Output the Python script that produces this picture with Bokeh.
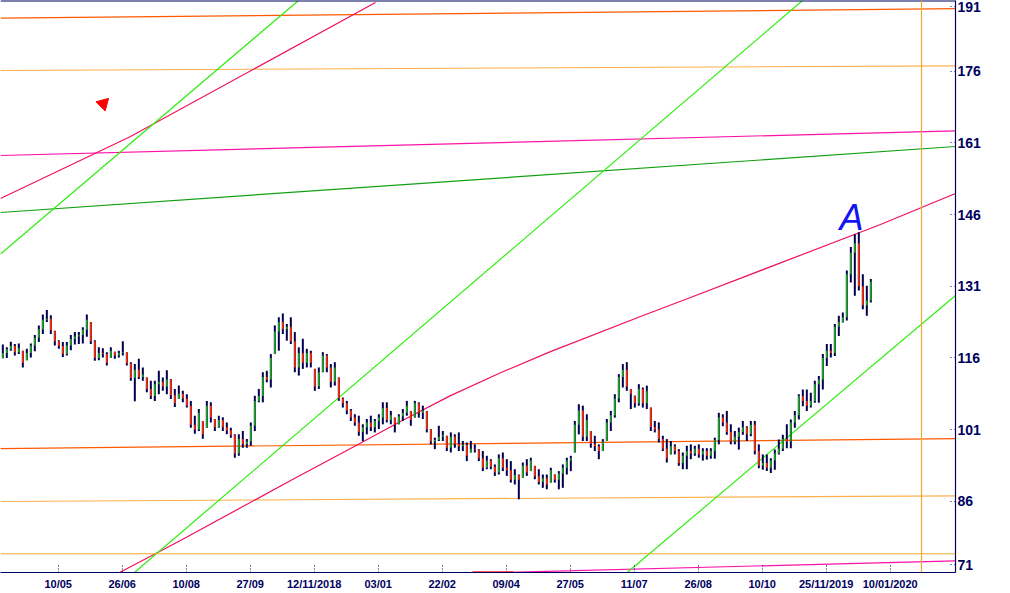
from bokeh.plotting import figure
from bokeh.models import Range1d, FixedTicker, Span, Label, ColumnDataSource
from bokeh.embed import file_html
from bokeh.resources import INLINE

# ---------------- data (one bar = two trading days) ----------------
highs = [
    118.8, 118.2, 119.4, 118.9, 119.0, 117.5, 117.9, 119.0, 120.8, 122.8,
    125.1, 126.0, 124.9, 121.7, 119.7, 119.3, 119.3, 120.8, 121.4, 121.4,
    122.4, 125.1, 123.5, 119.7, 118.2, 118.0, 117.2, 118.2, 117.3, 117.5,
    119.5, 117.2, 115.1, 114.7, 115.8, 114.0, 111.9, 111.2, 111.2, 113.3,
    111.9, 113.4, 111.6, 109.5, 110.2, 109.1, 108.4, 107.0, 103.9, 105.3,
    102.8, 107.0, 106.7, 103.2, 103.9, 103.6, 102.5, 101.4, 100.0, 100.0,
    100.7, 99.0, 102.5, 108.1, 109.5, 113.0, 113.3, 116.8, 122.8, 124.5,
    125.3, 123.1, 124.5, 121.4, 118.2, 120.0, 117.9, 117.5, 113.7, 114.0,
    117.2, 116.8, 114.7, 115.1, 111.9, 107.7, 107.0, 105.3, 104.2, 103.9,
    102.1, 103.2, 103.9, 103.2, 104.2, 106.7, 106.7, 104.9, 103.5, 104.2,
    105.3, 107.0, 104.9, 107.0, 106.7, 106.0, 104.9, 101.1, 99.3, 101.8,
    100.7, 99.7, 100.4, 100.0, 100.4, 98.6, 98.3, 98.6, 97.9, 96.9,
    96.5, 95.5, 94.8, 93.7, 95.8, 96.2, 94.8, 94.4, 92.7, 91.6,
    94.1, 94.8, 95.1, 93.4, 92.7, 91.6, 91.6, 93.0, 91.6, 92.3,
    93.7, 95.1, 95.5, 102.8, 106.3, 106.0, 104.2, 100.7, 99.7, 97.9,
    99.0, 103.2, 104.9, 108.4, 112.6, 114.7, 115.1, 109.5, 108.1, 110.5,
    109.8, 110.2, 105.6, 102.8, 102.5, 99.7, 99.0, 98.6, 97.9, 96.9,
    96.2, 97.6, 97.9, 97.6, 97.9, 97.1, 97.1, 97.1, 99.3, 104.5,
    104.2, 104.9, 102.1, 100.7, 101.4, 102.8, 101.7, 102.8, 102.8, 97.9,
    95.8, 95.8, 95.0, 96.8, 98.9, 99.9, 102.1, 103.1, 104.9, 108.4,
    109.4, 109.4, 108.7, 111.2, 112.2, 116.8, 118.9, 118.9, 123.1, 124.8,
    125.5, 134.3, 139.2, 141.9, 142.3, 133.5, 131.1, 132.5]

lows = [
    115.9, 116.0, 117.5, 116.5, 116.8, 114.0, 115.5, 116.1, 117.4, 119.3,
    121.0, 123.5, 121.0, 118.6, 117.9, 116.2, 116.5, 117.6, 118.8, 118.9,
    119.0, 120.4, 118.9, 115.4, 115.5, 116.1, 114.4, 116.0, 115.8, 116.1,
    116.5, 114.4, 111.2, 106.9, 111.6, 111.2, 108.8, 107.4, 107.0, 108.4,
    109.1, 108.4, 107.4, 105.7, 107.4, 106.7, 105.6, 101.4, 100.1, 100.7,
    99.1, 101.4, 102.5, 100.7, 101.4, 100.7, 100.0, 99.3, 95.1, 95.5,
    97.2, 97.2, 97.6, 100.7, 106.7, 106.7, 110.9, 109.8, 116.8, 117.5,
    121.0, 119.6, 118.9, 113.0, 112.3, 113.7, 114.0, 114.0, 109.1, 109.5,
    113.0, 113.0, 109.8, 110.2, 107.0, 105.6, 104.2, 102.8, 101.8, 99.7,
    98.6, 100.0, 100.7, 100.4, 101.1, 102.1, 102.5, 102.1, 100.4, 102.1,
    102.8, 103.9, 101.8, 103.5, 103.5, 103.2, 100.4, 97.9, 96.9, 98.6,
    98.6, 96.5, 96.2, 97.2, 96.5, 96.5, 94.4, 96.2, 96.2, 94.4,
    92.3, 92.7, 92.7, 91.3, 91.6, 92.3, 91.3, 89.9, 89.5, 86.4,
    90.9, 91.3, 92.3, 90.6, 89.5, 88.8, 88.5, 89.9, 89.9, 88.5,
    88.8, 91.6, 92.3, 96.2, 100.0, 98.6, 98.6, 97.2, 96.5, 94.8,
    96.5, 98.6, 100.7, 103.5, 106.7, 109.8, 109.1, 105.3, 105.6, 106.0,
    105.6, 105.3, 100.7, 100.4, 98.3, 96.5, 94.1, 95.8, 95.8, 93.4,
    92.7, 92.7, 94.8, 95.5, 95.1, 94.5, 94.7, 94.9, 94.9, 97.9,
    101.7, 99.9, 97.9, 97.9, 96.8, 99.9, 98.6, 99.6, 95.8, 92.9,
    92.6, 92.3, 91.9, 92.6, 95.8, 96.5, 97.1, 97.1, 101.4, 103.1,
    105.9, 104.9, 105.6, 106.6, 106.6, 109.4, 114.3, 116.1, 116.4, 120.6,
    123.4, 123.8, 131.8, 129.0, 130.1, 126.2, 124.8, 127.6]

closes = [
    117.0, 117.8, 118.5, 117.2, 118.0, 115.0, 117.0, 118.6, 120.2, 122.0,
    124.0, 124.2, 121.8, 119.5, 118.5, 116.8, 118.6, 120.0, 120.5, 120.8,
    121.9, 124.0, 119.5, 116.0, 117.0, 116.8, 115.0, 117.5, 116.5, 117.0,
    117.2, 114.8, 111.8, 113.5, 112.0, 112.5, 109.5, 108.0, 110.5, 111.0,
    110.0, 111.5, 108.2, 106.5, 108.5, 107.5, 106.0, 102.0, 101.0, 104.5,
    100.0, 106.0, 103.5, 101.5, 103.0, 101.5, 100.8, 99.8, 96.0, 99.0,
    98.0, 98.5, 101.8, 107.0, 108.0, 112.0, 111.5, 116.0, 121.5, 123.5,
    122.0, 122.5, 119.5, 114.0, 117.0, 115.0, 117.0, 115.0, 110.0, 113.0,
    116.5, 114.0, 111.0, 114.0, 107.5, 106.5, 105.0, 103.5, 102.5, 100.5,
    101.5, 102.5, 101.5, 102.8, 103.5, 105.5, 103.0, 104.0, 102.0, 103.8,
    104.5, 106.0, 103.0, 106.5, 104.5, 105.0, 101.0, 98.5, 98.8, 99.5,
    99.8, 97.2, 99.5, 98.0, 97.5, 97.8, 95.5, 97.0, 96.8, 95.0,
    93.0, 94.5, 93.2, 92.0, 95.0, 93.0, 92.5, 90.5, 91.5, 90.5,
    93.5, 92.0, 94.5, 91.2, 90.0, 90.8, 89.5, 92.5, 90.5, 91.8,
    93.0, 94.5, 95.0, 102.0, 105.0, 99.5, 103.0, 98.0, 97.5, 96.5,
    98.5, 102.5, 104.0, 107.5, 112.0, 113.5, 110.0, 108.5, 106.5, 109.5,
    106.5, 109.0, 101.5, 101.0, 99.0, 97.0, 95.0, 97.5, 96.5, 94.0,
    95.5, 96.5, 96.0, 97.0, 95.8, 96.5, 95.5, 96.5, 98.8, 103.5,
    102.5, 100.5, 98.5, 99.5, 100.5, 101.5, 100.0, 102.0, 96.5, 93.5,
    94.0, 93.0, 94.5, 96.0, 97.0, 99.0, 98.5, 102.5, 104.0, 108.0,
    107.0, 106.0, 107.0, 110.5, 111.5, 116.0, 117.5, 117.0, 122.5, 123.5,
    124.5, 133.5, 138.0, 140.0, 131.0, 127.0, 128.0, 132.0]

# date axis: bar index of each labelled date and its label
date_ticks = [13.84, 29.84, 45.84, 61.84, 77.84, 93.84, 109.84,
              125.84, 141.84, 157.84, 173.84, 189.84, 205.84, 221.84]
date_labels = ["10/05", "26/06", "10/08", "27/09", "12/11/2018", "03/01", "22/02",
               "09/04", "27/05", "11/07", "26/08", "10/10", "25/11/2019", "10/01/2020"]
price_ticks = [86, 101, 116, 131, 146, 161, 176]
# the end labels 191 / 71 are shown pinned just inside the chart edges
edge_ticks = [72.75, 189.5]
edge_labels = ["71", "191"]

# trend / channel lines (bar index, price)
orange_top_x, orange_top_y = [-0.6, 238.2], [187.1, 189.1]
orange_bot_x, orange_bot_y = [-0.6, 238.2], [97.0, 99.1]
amber_top_x, amber_top_y = [-0.6, 238.2], [176.15, 177.13]
amber_bot_x, amber_bot_y = [-0.6, 238.2], [85.94, 87.13]
magenta_top_x, magenta_top_y = [-0.6, 238.2], [158.36, 163.53]
magenta_bot_x, magenta_bot_y = [-0.6, 238.2], [68.35, 73.53]
green_x, green_y = [-0.6, 238.2], [146.43, 160.24]
crimson_low_x = [29.17, 44.42, 72.42, 86.92, 99.42, 111.92, 124.42, 136.92,
                 159.42, 171.92, 219.42, 238.17]
crimson_low_y = [71.08, 77.78, 90.55, 97.03, 102.7, 108.1, 112.9, 117.3,
                 124.66, 128.64, 143.92, 150.41]
crimson_up_x = [-0.58, 31.92, 93.17]
crimson_up_y = [149.36, 162.34, 190.38]
lime1_x, lime1_y = [-0.58, 73.92], [137.74, 190.8]
lime2_x, lime2_y = [32.92, 199.92], [71.08, 190.8]
lime3_x, lime3_y = [156.09, 238.17], [71.08, 129.06]
red_base_x, red_base_y = [117.4, 127.7], [71.2, 71.2]
cross_x, cross_y = 229.67, 75.0

# ---------------- figure ----------------
NAVY = "#000060"
p = figure(width=1000, height=593,
           x_range=Range1d(-0.5825, 238.17), y_range=Range1d(71.08, 190.8),
           output_backend="svg", toolbar_location=None, y_axis_location="right",
           min_border_left=0, min_border_top=0, min_border_right=45, min_border_bottom=21,
           background_fill_color="white", border_fill_color="white")
p.outline_line_color = None
p.grid.visible = False

# axes
xa = p.xaxis[0]
xa.ticker = FixedTicker(ticks=date_ticks)
xa.major_label_overrides = {t: l for t, l in zip(date_ticks, date_labels)}
ya = p.yaxis[0]
ya.ticker = FixedTicker(ticks=edge_ticks[:1] + price_ticks + edge_ticks[1:])
ya.major_label_overrides = {t: l for t, l in zip(edge_ticks, edge_labels)}
for ax in (xa, ya):
    ax.axis_line_color = NAVY
    ax.axis_line_width = 1.2
    ax.major_tick_in = 8
    ax.major_tick_out = 0
    ax.major_tick_line_color = NAVY
    ax.minor_tick_line_color = None
    ax.major_label_text_color = NAVY
    ax.major_label_text_font = "Liberation Sans"
    ax.major_label_text_font_style = "bold"
xa.major_tick_line_dash = "1 2"
xa.major_label_text_font_size = "11px"
xa.major_label_standoff = 5
ya.major_tick_line_dash = "1 3"
ya.major_label_text_font_size = "14px"
ya.major_label_standoff = 2

# top border
p.add_layout(Span(location=190.75, dimension="width", line_color=NAVY, line_width=1.5))

# lines
def ln(xs, ys, color):
    p.line(xs, ys, line_color=color, line_width=1.2)

ln(orange_top_x, orange_top_y, "#FF5A00")
ln(orange_bot_x, orange_bot_y, "#FF5A00")
ln(amber_top_x, amber_top_y, "#FFB04C")
ln(amber_bot_x, amber_bot_y, "#FFB04C")
ln(magenta_top_x, magenta_top_y, "#FF10A8")
ln(magenta_bot_x, magenta_bot_y, "#FF10A8")
ln(green_x, green_y, "#12A012")
ln(crimson_low_x, crimson_low_y, "#F0105C")
ln(crimson_up_x, crimson_up_y, "#F0105C")
ln(lime1_x, lime1_y, "#30EE10")
ln(lime2_x, lime2_y, "#30EE10")
ln(lime3_x, lime3_y, "#30EE10")
p.line(red_base_x, red_base_y, line_color="#FF2020", line_width=1.5)

p.add_layout(Span(location=cross_x, dimension="height", line_color="#F0A830", line_width=1.2))
p.add_layout(Span(location=cross_y, dimension="width", line_color="#F0A830", line_width=1.2))

# OHLC bars
idx = list(range(len(highs)))
opens = [lows[0]] + closes[:-1]
opens = [min(max(o, l), h) for o, l, h in zip(opens, lows, highs)]
cols = ["#1FA51F" if c >= o else "#FF2A00" for o, c in zip(opens, closes)]
src = ColumnDataSource(dict(x=idx, h=highs, l=lows, o=opens, c=closes, col=cols))
p.segment(x0="x", y0="l", x1="x", y1="h", source=src, line_color="#00004E", line_width=2)
p.segment(x0="x", y0="o", x1="x", y1="c", source=src, line_color="col", line_width=1.6)

# annotations
p.add_layout(Label(x=212.2, y=145.4, text="A", text_color="#1414F0", text_font="Liberation Sans",
                   text_font_size="36px", text_font_style="italic",
                   text_align="center", text_baseline="middle"))
p.scatter([25.1], [169.2], marker="triangle", size=13, angle=-0.785, color="#FF0000")

open("out.html", "w").write(file_html(p, INLINE))
